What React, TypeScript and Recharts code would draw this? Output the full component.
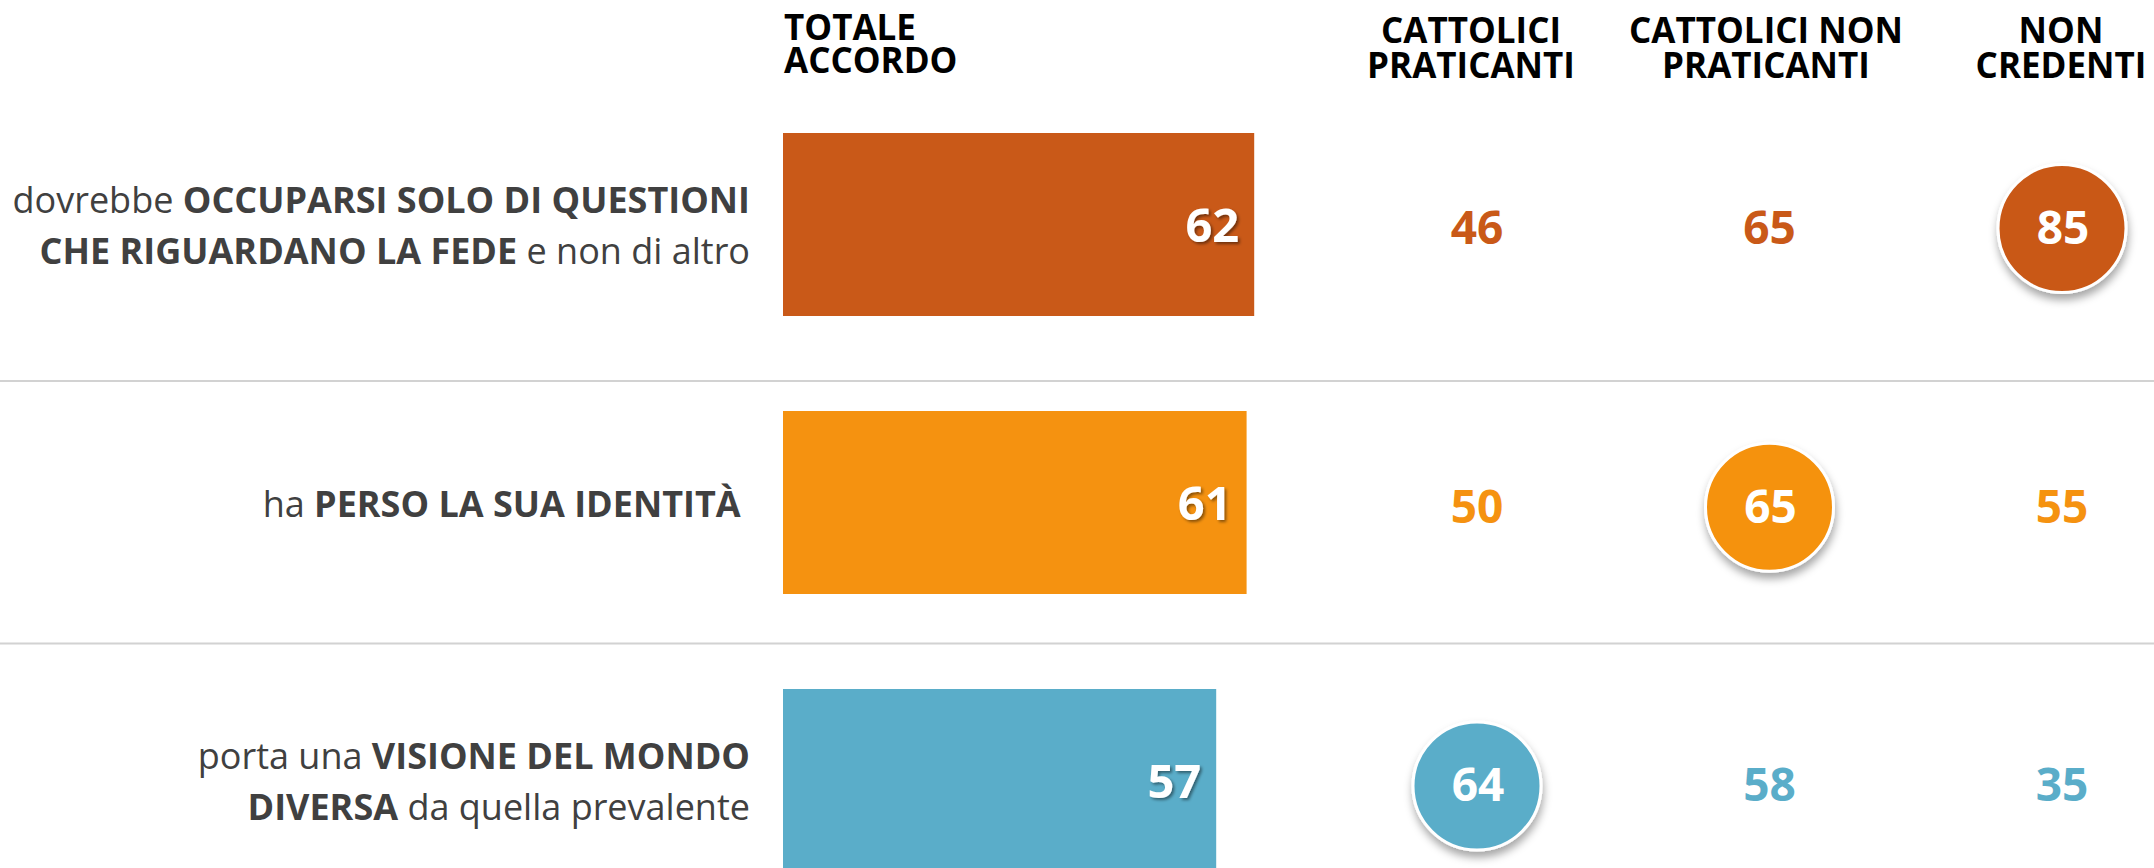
import React from 'react';
import {
  BarChart,
  Bar,
  XAxis,
  YAxis,
  Cell,
  LabelList,
  ScatterChart,
  Scatter,
  ReferenceLine,
} from 'recharts';

// ---------- DATA ----------
const rowKeys = ['fede', 'identita', 'visione'];

type Seg = [string, boolean];
const rowLabelLines: Seg[][][] = [
  [
    [['dovrebbe ', false], ['OCCUPARSI SOLO DI QUESTIONI', true]],
    [['CHE RIGUARDANO LA FEDE', true], [' e non di altro', false]],
  ],
  [[['ha ', false], ['PERSO LA SUA IDENTITÀ\u00A0', true]]],
  [
    [['porta una ', false], ['VISIONE DEL MONDO', true]],
    [['DIVERSA', true], [' da quella prevalente', false]],
  ],
];

const totaleAccordo = [62, 61, 57];
const cattoliciPraticanti = [46, 50, 64];
const cattoliciNonPraticanti = [65, 65, 58];
const nonCredenti = [85, 55, 35];

const rowColors = ['#C95918', '#F59210', '#5AADC9'];

const totalHeader = ['TOTALE', 'ACCORDO'];
const groupHeaders = [
  ['CATTOLICI', 'PRATICANTI'],
  ['CATTOLICI NON', 'PRATICANTI'],
  ['NON', 'CREDENTI'],
];

// separator positions, in row units (row 0 = first row centre)
const separators = [0.547, 1.489];

// ---------- LAYOUT ----------
const W = 2154;
const H = 868;
const FONT = "'Open Sans', 'Noto Sans', sans-serif";

const BAR_LEFT = 783;
const BAR_PX_PER_UNIT = 7.6;
const BAR_HEADER_H = 85;
const ROW_BAND = 278;
const BAR_CHART_H = BAR_HEADER_H + ROW_BAND * 3;

const COL0_PX = 1477;
const COL_STEP_PX = 292.5;
const ROW0_PX = 228.5;
const ROW_STEP_PX = 278.75;
const GROUP_HEADER_H = 100;

const xDomain: [number, number] = [-COL0_PX / COL_STEP_PX, (W - COL0_PX) / COL_STEP_PX];
const yMin = -(ROW0_PX - GROUP_HEADER_H) / ROW_STEP_PX;
const yDomain: [number, number] = [yMin, yMin + (H - GROUP_HEADER_H) / ROW_STEP_PX];

const barData = rowKeys.map((k, i) => ({ row: k, value: totaleAccordo[i] }));

const groupSeries = [cattoliciPraticanti, cattoliciNonPraticanti, nonCredenti];
const pointData = rowKeys.flatMap((_, r) => {
  const vals = groupSeries.map((s) => s[r]);
  const mx = Math.max(...vals);
  return vals.map((v, c) => ({
    col: c,
    row: r,
    value: v,
    color: rowColors[r],
    highlight: v === mx,
  }));
});

// ---------- CUSTOM RENDERERS ----------
const LABEL_FS = 36;
const RowLabelTick = (props: any) => {
  const { x, y, index } = props;
  const lines = rowLabelLines[index] || [];
  const pitch = 51;
  const n = lines.length;
  const capOff = LABEL_FS * 0.357;
  return (
    <text
      x={x}
      y={y}
      textAnchor="end"
      fontFamily={FONT}
      fontSize={LABEL_FS}
      fill="#404040"
      style={{ whiteSpace: 'pre' }}
    >
      {lines.map((line, li) => (
        <tspan key={li} x={x} y={y + 2 + (li - (n - 1) / 2) * pitch + capOff}>
          {line.map((seg, si) => (
            <tspan key={si} fontWeight={seg[1] ? 700 : 400}>
              {seg[0]}
            </tspan>
          ))}
        </tspan>
      ))}
    </text>
  );
};

const TotalHeaderTick = (props: any) => {
  const { x } = props;
  return (
    <text x={x + 1} y={40} fontFamily={FONT} fontSize={35} fontWeight={700} fill="#000">
      {totalHeader.map((t, i) => (
        <tspan key={i} x={x + 1} y={40 + i * 33}>
          {t}
        </tspan>
      ))}
    </text>
  );
};

const GroupHeaderTick = (props: any) => {
  const { x, payload } = props;
  const lines = groupHeaders[payload.value] || [];
  const hx = x - 6 + 2.5 * payload.value;
  return (
    <text x={hx} y={43} textAnchor="middle" fontFamily={FONT} fontSize={35} fontWeight={700} fill="#000">
      {lines.map((t, i) => (
        <tspan key={i} x={hx} y={43 + i * 35}>
          {t}
        </tspan>
      ))}
    </text>
  );
};

const BarValueLabel = (props: any) => {
  const { x, y, width, height, value, index } = props;
  const fs = 47;
  const id = `barShadow${index}`;
  return (
    <g>
      <defs>
        <filter id={id} x="-20%" y="-20%" width="140%" height="140%">
          <feDropShadow dx="2" dy="2" stdDeviation="1.5" floodColor="#000" floodOpacity="0.45" />
        </filter>
      </defs>
      <text
        x={x + width - 15}
        y={y + height / 2 + fs * 0.357 + 1}
        textAnchor="end"
        fontFamily={FONT}
        fontSize={fs}
        fontWeight={700}
        fill="#fff"
        filter={`url(#${id})`}
      >
        {value}
      </text>
    </g>
  );
};

const ValueShape = (props: any) => {
  const { cx, cy, payload } = props;
  const fs = 46;
  const ty = cy + fs * 0.357 - 1;
  if (payload.highlight) {
    const id = `circShadow${payload.row}_${payload.col}`;
    return (
      <g>
        <defs>
          <filter id={id} x="-30%" y="-30%" width="160%" height="170%">
            <feDropShadow dx="1" dy="6" stdDeviation="4" floodColor="#000" floodOpacity="0.35" />
          </filter>
        </defs>
        <circle cx={cx} cy={cy} r={64} fill={payload.color} stroke="#fff" strokeWidth={3} filter={`url(#${id})`} />
        <text x={cx + 1} y={ty} textAnchor="middle" fontFamily={FONT} fontSize={fs} fontWeight={700} fill="#fff">
          {payload.value}
        </text>
      </g>
    );
  }
  return (
    <text x={cx} y={ty} textAnchor="middle" fontFamily={FONT} fontSize={fs} fontWeight={700} fill={payload.color}>
      {payload.value}
    </text>
  );
};

// ---------- APP ----------
export default function App() {
  return (
    <div
      style={{
        position: 'absolute',
        left: 0,
        top: 0,
        width: W,
        height: H,
        overflow: 'hidden',
        background: '#fff',
      }}
    >
      <div style={{ position: 'absolute', left: 0, top: 0 }}>
        <BarChart
          width={W}
          height={BAR_CHART_H}
          data={barData}
          layout="vertical"
          margin={{ top: 0, right: W - BAR_LEFT - 100 * BAR_PX_PER_UNIT, bottom: 0, left: 0 }}
          barCategoryGap={0}
        >
          <XAxis
            type="number"
            domain={[0, 100]}
            allowDataOverflow
            orientation="top"
            height={BAR_HEADER_H}
            ticks={[0]}
            interval={0}
            axisLine={false}
            tickLine={false}
            tickSize={0}
            tickMargin={0}
            tick={(p: any) => <TotalHeaderTick {...p} />}
          />
          <YAxis
            type="category"
            dataKey="row"
            width={BAR_LEFT}
            interval={0}
            axisLine={false}
            tickLine={false}
            tickSize={0}
            tickMargin={33}
            tick={(p: any) => <RowLabelTick {...p} />}
          />
          <Bar dataKey="value" barSize={183} isAnimationActive={false}>
            {barData.map((d, i) => (
              <Cell key={d.row} fill={rowColors[i]} />
            ))}
            <LabelList dataKey="value" content={(p: any) => <BarValueLabel {...p} />} />
          </Bar>
        </BarChart>
      </div>
      <div style={{ position: 'absolute', left: 0, top: 0 }}>
        <ScatterChart width={W} height={H} margin={{ top: 0, right: 0, bottom: 0, left: 0 }}>
          <XAxis
            type="number"
            dataKey="col"
            domain={xDomain}
            allowDataOverflow
            orientation="top"
            height={GROUP_HEADER_H}
            ticks={[0, 1, 2]}
            interval={0}
            axisLine={false}
            tickLine={false}
            tickSize={0}
            tickMargin={0}
            tick={(p: any) => <GroupHeaderTick {...p} />}
          />
          <YAxis type="number" dataKey="row" domain={yDomain} allowDataOverflow reversed hide width={0} />
          {separators.map((s) => (
            <ReferenceLine key={s} y={s} stroke="#D2D2D2" strokeWidth={2} />
          ))}
          <Scatter data={pointData} shape={(p: any) => <ValueShape {...p} />} isAnimationActive={false} />
        </ScatterChart>
      </div>
    </div>
  );
}
